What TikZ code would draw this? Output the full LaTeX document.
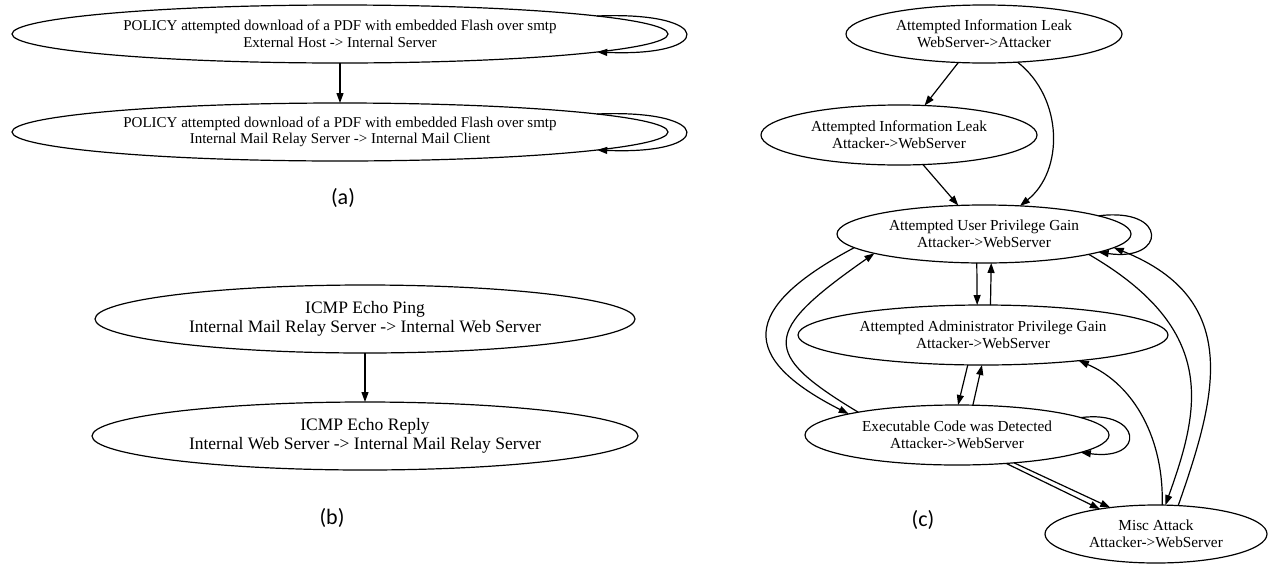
\documentclass[tikz,border=0pt]{standalone}
\usepackage{fontspec}
\setmainfont{Liberation Serif}
\newfontfamily\tagfont{Carlito}
\usetikzlibrary{arrows.meta}
\usetikzlibrary{shapes.geometric}

\begin{document}
\begin{tikzpicture}[x=1pt,y=-1pt,
  event/.style={ellipse,draw,line width=1.2pt,inner sep=0pt,outer sep=0pt,align=center},
  flow/.style={line width=1.2pt,-{Triangle[length=10pt,width=7pt]}},
  tag/.style={font=\tagfont\fontsize{22}{24}\selectfont}]

  \useasboundingbox (0,0) rectangle (1268,563);

  \node[event,minimum width=656pt,minimum height=58pt,font=\fontsize{15}{16.5}\selectfont] (polA) at (340,34)
    {POLICY attempted download of a PDF with embedded Flash over smtp\\External Host -> Internal Server};
  \node[event,minimum width=656pt,minimum height=58pt,font=\fontsize{15}{16.5}\selectfont] (polB) at (340,132)
    {POLICY attempted download of a PDF with embedded Flash over smtp\\Internal Mail Relay Server -> Internal Mail Client};
  \draw[flow] (polA.south) -- (polB.north);
  \draw[flow] (polA.4) .. controls +(118,-5) and +(118,5) .. (polA.-4);
  \draw[flow] (polB.4) .. controls +(118,-5) and +(118,5) .. (polB.-4);
  \node[tag] (tagA) at (343,198) {(a)};

  \node[event,minimum width=540pt,minimum height=68pt,font=\fontsize{17.5}{18.5}\selectfont] (ping) at (365,319)
    {ICMP Echo Ping\\Internal Mail Relay Server -> Internal Web Server};
  \node[event,minimum width=546pt,minimum height=68pt,font=\fontsize{17.5}{18.5}\selectfont] (reply) at (365,436)
    {ICMP Echo Reply\\Internal Web Server -> Internal Mail Relay Server};
  \draw[flow] (ping.south) -- (reply.north);
  \node[tag] (tagB) at (332,518) {(b)};

  \tikzset{every node/.append style={font=\fontsize{15.3}{17}\selectfont}}
  \node[event,minimum width=276pt,minimum height=58pt] (leakA) at (984,34)
    {Attempted Information Leak\\WebServer->Attacker};
  \node[event,minimum width=276pt,minimum height=60pt] (leakB) at (899,135)
    {Attempted Information Leak\\Attacker->WebServer};
  \node[event,minimum width=294pt,minimum height=58pt] (user) at (984,234)
    {Attempted User Privilege Gain\\Attacker->WebServer};
  \node[event,minimum width=370pt,minimum height=60pt] (admin) at (983,335)
    {Attempted Administrator Privilege Gain\\Attacker->WebServer};
  \node[event,minimum width=304pt,minimum height=60pt] (exec) at (957,435)
    {Executable Code was Detected\\Attacker->WebServer};
  \node[event,minimum width=222pt,minimum height=58pt] (misc) at (1156,534)
    {Misc Attack\\Attacker->WebServer};

  \draw[flow] (leakA.-132) -- (leakB.49);
  \draw[flow] (leakA.-40) .. controls +(46,36) and +(44,-35) .. (user.38);
  \draw[flow] (leakB.-51) -- (user.132);
  \draw[flow] (user.9) .. controls +(70,-9) and +(68,10) .. (user.-9);

  \draw[flow] (user.-104) -- (admin.101);
  \draw[flow] (admin.76) -- (user.-76);
  \draw[flow] (admin.-117) -- (exec.88);
  \draw[flow] (exec.62) -- (admin.-92);

  \draw[flow] (user.-174) .. controls +(-115,61) and +(-110,-56) .. (exec.169);
  \draw[flow] (exec.167) .. controls +(-98,-59) and +(-113,79) .. (user.-170);

  \draw[flow] (user.-11) .. controls +(131,76) and +(34,-95) .. (misc.72);
  \draw[flow] (misc.52) .. controls +(37,-106) and +(131,52) .. (user.-6);
  \draw[flow] (misc.78) .. controls +(2,-65) and +(56,24) .. (admin.-15);

  \draw[flow] (exec.8) .. controls +(61,-8) and +(66,9) .. (exec.-8);
  \draw[flow] (exec.-30) -- (misc.156);
  \draw[flow] (exec.-26) -- (misc.150);
  \node[tag] (tagC) at (923,520) {(c)};

\end{tikzpicture}
\end{document}
